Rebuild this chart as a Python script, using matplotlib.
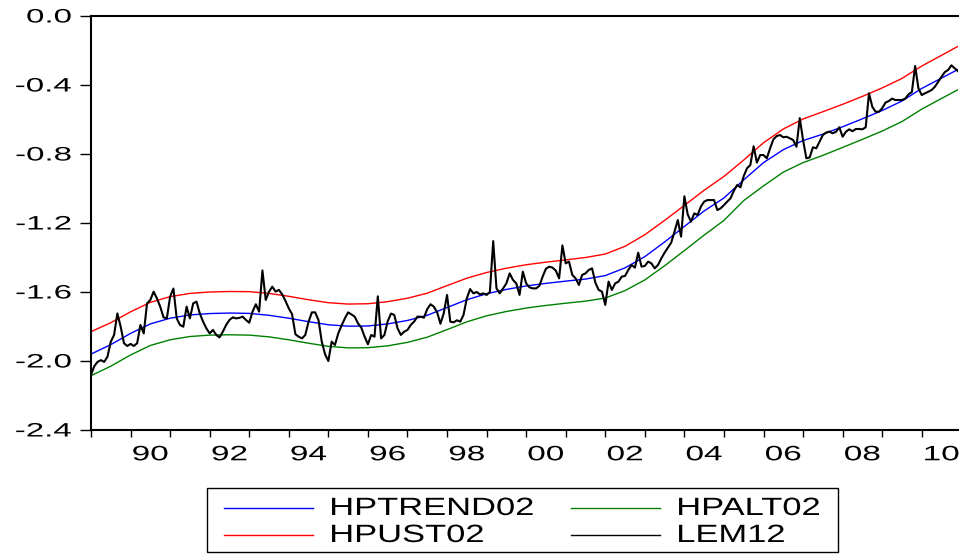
import matplotlib.pyplot as plt
import numpy as np
from matplotlib.lines import Line2D
from matplotlib.patches import Rectangle
from matplotlib.patheffects import AbstractPathEffect
from matplotlib.ticker import FixedLocator, FixedFormatter, NullFormatter
from matplotlib.transforms import Affine2D

plt.rcParams["font.family"] = ["Liberation Sans", "DejaVu Sans"]

# Semiannual knots for the smooth HP curves, 1989.0 .. 2011.0
knot_years = np.arange(1989.0, 2011.01, 0.5)

hptrend02 = [
    -1.960, -1.905, -1.840, -1.785, -1.752, -1.733, -1.725, -1.722, -1.724,
    -1.735, -1.752, -1.772, -1.790, -1.798, -1.797, -1.785, -1.765, -1.735,
    -1.690, -1.645, -1.610, -1.585, -1.565, -1.550, -1.537, -1.525, -1.505,
    -1.460, -1.395, -1.310, -1.220, -1.130, -1.055, -0.950, -0.850, -0.775,
    -0.722, -0.685, -0.642, -0.596, -0.548, -0.493, -0.420, -0.360, -0.300,
]

hpust02 = [
    -1.830, -1.778, -1.715, -1.660, -1.627, -1.608, -1.600, -1.597, -1.598,
    -1.608, -1.625, -1.645, -1.662, -1.670, -1.668, -1.656, -1.636, -1.607,
    -1.563, -1.520, -1.487, -1.462, -1.442, -1.427, -1.414, -1.400, -1.380,
    -1.335, -1.268, -1.185, -1.098, -1.010, -0.930, -0.835, -0.735, -0.655,
    -0.597, -0.555, -0.512, -0.466, -0.417, -0.362, -0.290, -0.228, -0.165,
]

hpalt02 = [
    -2.085, -2.030, -1.965, -1.910, -1.877, -1.858, -1.850, -1.848, -1.850,
    -1.860, -1.877, -1.897, -1.915, -1.924, -1.923, -1.912, -1.892, -1.862,
    -1.818, -1.773, -1.738, -1.713, -1.693, -1.678, -1.665, -1.653, -1.635,
    -1.592, -1.530, -1.448, -1.360, -1.270, -1.185, -1.070, -0.985, -0.905,
    -0.850, -0.808, -0.762, -0.715, -0.667, -0.612, -0.540, -0.478, -0.417,
]

# Monthly observations, 1989M01 .. 2010M12
lem12 = [
    -2.080, -2.030, -2.005, -1.995, -2.005, -1.975, -1.888, -1.849, -1.724, -1.801, -1.897, -1.913,  # 1989
    -1.901, -1.913, -1.897, -1.791, -1.840, -1.666, -1.646, -1.598, -1.637, -1.685, -1.747, -1.753,  # 1990
    -1.627, -1.580, -1.753, -1.791, -1.801, -1.685, -1.753, -1.666, -1.656, -1.724, -1.772, -1.811,  # 1991
    -1.840, -1.820, -1.849, -1.863, -1.830, -1.791, -1.762, -1.747, -1.753, -1.750, -1.743, -1.762,  # 1992
    -1.778, -1.714, -1.671, -1.714, -1.475, -1.646, -1.598, -1.569, -1.598, -1.588, -1.614, -1.652,  # 1993
    -1.695, -1.729, -1.845, -1.859, -1.869, -1.849, -1.772, -1.718, -1.718, -1.762, -1.888, -1.961,  # 1994
    -2.000, -1.888, -1.907, -1.840, -1.795, -1.753, -1.718, -1.730, -1.743, -1.782, -1.807, -1.859,  # 1995
    -1.903, -1.849, -1.859, -1.625, -1.869, -1.849, -1.770, -1.725, -1.733, -1.811, -1.849, -1.830,  # 1996
    -1.820, -1.791, -1.772, -1.743, -1.743, -1.749, -1.699, -1.671, -1.685, -1.718, -1.784, -1.724,  # 1997
    -1.617, -1.772, -1.776, -1.764, -1.772, -1.733, -1.637, -1.583, -1.608, -1.600, -1.614, -1.608,  # 1998
    -1.617, -1.600, -1.305, -1.579, -1.608, -1.579, -1.550, -1.492, -1.530, -1.550, -1.617, -1.482,  # 1999
    -1.550, -1.573, -1.579, -1.579, -1.565, -1.511, -1.465, -1.453, -1.459, -1.476, -1.521, -1.330,  # 2000
    -1.434, -1.424, -1.501, -1.521, -1.559, -1.501, -1.492, -1.472, -1.463, -1.546, -1.588, -1.598,  # 2001
    -1.675, -1.540, -1.588, -1.550, -1.540, -1.511, -1.507, -1.472, -1.443, -1.459, -1.372, -1.453,  # 2002
    -1.449, -1.424, -1.434, -1.463, -1.443, -1.405, -1.372, -1.343, -1.314, -1.250, -1.183, -1.279,  # 2003
    -1.045, -1.150, -1.192, -1.144, -1.154, -1.105, -1.076, -1.067, -1.067, -1.067, -1.125, -1.115,  # 2004
    -1.096, -1.076, -1.057, -1.013, -0.980, -0.993, -0.928, -0.883, -0.864, -0.755, -0.850, -0.806,  # 2005
    -0.806, -0.825, -0.767, -0.715, -0.696, -0.690, -0.703, -0.700, -0.709, -0.719, -0.758, -0.592,  # 2006
    -0.719, -0.825, -0.820, -0.761, -0.767, -0.729, -0.690, -0.676, -0.670, -0.680, -0.671, -0.645,  # 2007
    -0.700, -0.671, -0.657, -0.668, -0.655, -0.655, -0.657, -0.645, -0.448, -0.526, -0.555, -0.555,  # 2008
    -0.535, -0.502, -0.493, -0.479, -0.487, -0.487, -0.487, -0.479, -0.454, -0.441, -0.290, -0.420,  # 2009
    -0.458, -0.448, -0.439, -0.429, -0.410, -0.381, -0.352, -0.325, -0.313, -0.286, -0.303, -0.320,  # 2010
]

y_ticks = [0.0, -0.4, -0.8, -1.2, -1.6, -2.0, -2.4]
y_tick_labels = ["0.0", "-0.4", "-0.8", "-1.2", "-1.6", "-2.0", "-2.4"]
year_ticks = np.arange(1989, 2011)
x_label_years = np.arange(1990, 2011, 2)
x_tick_labels = ["90", "92", "94", "96", "98", "00", "02", "04", "06", "08", "10"]

series = [
    ("HPTREND02", hptrend02, "#0000ff"),
    ("HPUST02", hpust02, "#ff0000"),
    ("HPALT02", hpalt02, "#008000"),
]


class WideText(AbstractPathEffect):
    """Draw text glyphs widened horizontally, pinned at one edge or the centre."""

    def __init__(self, factor, anchor="center"):
        super().__init__()
        self.factor = factor
        self.anchor = anchor

    def draw_path(self, renderer, gc, tpath, affine, rgbFace=None):
        ext = tpath.transformed(affine).get_extents()
        if self.anchor == "left":
            x0 = ext.x0
        elif self.anchor == "right":
            x0 = ext.x1
        else:
            x0 = 0.5 * (ext.x0 + ext.x1)
        widen = Affine2D().translate(-x0, 0).scale(self.factor, 1.0).translate(x0, 0)
        renderer.draw_path(gc, tpath, affine + widen, rgbFace)


W, H = 959, 556
month_years = 1989 + np.arange(len(lem12)) / 12.0

fig = plt.figure(figsize=(W / 100, H / 100), dpi=100)
ax = fig.add_axes([91 / W, 1 - 430 / H, (958 - 91) / W, (430 - 16) / H])

for name, values, color in series:
    ax.plot(knot_years, values, color=color, linewidth=1.0)
ax.plot(month_years, lem12, color="black", linewidth=1.5)

ax.set_xlim(month_years[0], month_years[-1])
ax.set_ylim(-2.4, 0.0)

ax.yaxis.set_major_locator(FixedLocator(y_ticks))
ax.yaxis.set_major_formatter(FixedFormatter(y_tick_labels))

# year boundaries get the tick marks, labels sit centred in the year
ax.xaxis.set_major_locator(FixedLocator(year_ticks))
ax.xaxis.set_major_formatter(NullFormatter())
ax.xaxis.set_minor_locator(FixedLocator(x_label_years + 0.5))
ax.xaxis.set_minor_formatter(FixedFormatter(x_tick_labels))

ax.tick_params(axis="y", which="major", direction="out", length=8, width=1,
               labelsize=14, pad=6)
ax.tick_params(axis="x", which="major", direction="out", length=5, width=1)
ax.tick_params(axis="x", which="minor", length=0, labelsize=15, pad=11)

for label in ax.get_yticklabels():
    label.set_path_effects([WideText(1.7, "right")])
for label in ax.get_xticklabels(minor=True):
    label.set_path_effects([WideText(1.6, "center")])

for side in ["left", "top", "bottom"]:
    ax.spines[side].set_linewidth(1.5)
ax.spines["right"].set_visible(False)

# legend box below the plot, two columns
fig.add_artist(Rectangle((207 / W, 1 - 552 / H), (838 - 207) / W, (552 - 488) / H,
                         transform=fig.transFigure, facecolor="white",
                         edgecolor="black", linewidth=1.0))
legend_items = [
    ("HPTREND02", "#0000ff", 224, 508),
    ("HPUST02", "#ff0000", 224, 535),
    ("HPALT02", "#008000", 571, 508),
    ("LEM12", "black", 571, 535),
]
for name, color, x_px, y_px in legend_items:
    fy = 1 - y_px / H
    fig.add_artist(Line2D([x_px / W, (x_px + 89) / W], [fy, fy],
                          transform=fig.transFigure, color=color, linewidth=1.0))
    fig.text((x_px + 106) / W, fy, name, fontsize=18, ha="left", va="center",
             path_effects=[WideText(1.38, "left")])

fig.savefig("out.png", dpi=100)
